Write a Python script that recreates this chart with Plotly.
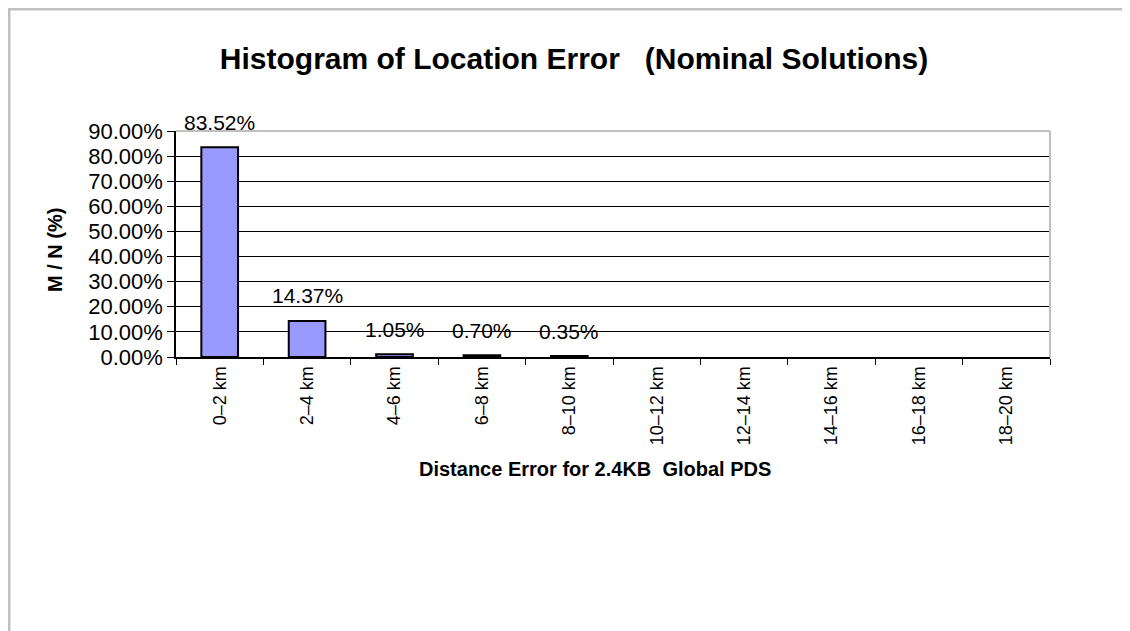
import plotly.graph_objects as go

categories = ["0\u20132 km", "2\u20134 km", "4\u20136 km", "6\u20138 km", "8\u201310 km",
              "10\u201312 km", "12\u201314 km", "14\u201316 km", "16\u201318 km", "18\u201320 km"]
values = [83.52, 14.37, 1.05, 0.70, 0.35, 0, 0, 0, 0, 0]
labeled = [True, True, True, True, True, False, False, False, False, False]
y_ticks = [0, 10, 20, 30, 40, 50, 60, 70, 80, 90]
y_ticklabels = [f"{v:.2f}%" for v in y_ticks]

FONT = "Liberation Sans, Arial, sans-serif"
NARROW = "Liberation Sans Narrow, Arial Narrow, Liberation Sans, Arial, sans-serif"

# page body has an 8px margin; figure is sized to fill the rest of the window
OFF = 8
W, H = 1130 - OFF, 631 - OFF
L, R, T, B = 176 - OFF, 80, 131 - OFF, 274

pw = W - L - R
ph = H - T - B
def px_x(x):
    return (x - L) / pw
def px_y(y):
    return 1 - (y - T) / ph

fig = go.Figure()
fig.add_trace(go.Bar(
    x=categories, y=values,
    marker=dict(color="#9999FF",
                line=dict(color="black", width=[2 if v > 0 else 0 for v in values])),
    width=0.42,
    hoverinfo="x+y",
))

for c, v, show in zip(categories, values, labeled):
    if show:
        fig.add_annotation(x=c, y=v, text=f"{v:.2f}%", showarrow=False,
                           yshift=25, font=dict(family=FONT, size=21, color="black"))

# axis titles as annotations (positioned like the reference)
fig.add_annotation(xref="paper", yref="paper", x=px_x(595 - OFF), y=px_y(469 - OFF),
                   text="<b>Distance Error for 2.4KB  Global PDS</b>", showarrow=False,
                   xanchor="center", yanchor="middle",
                   font=dict(family=FONT, size=20, color="black"))
fig.add_annotation(xref="paper", yref="paper", x=px_x(55 - OFF), y=px_y(250 - OFF),
                   text="<b>M / N (%)</b>", showarrow=False, textangle=-90,
                   xanchor="center", yanchor="middle",
                   font=dict(family=FONT, size=20, color="black"))

shapes = [
    # outer chart frame (top and left visible)
    dict(type="line", xref="paper", yref="paper", x0=px_x(0), x1=px_x(1140), y0=px_y(1), y1=px_y(1),
         line=dict(color="#c0c0c0", width=3)),
    dict(type="line", xref="paper", yref="paper", x0=px_x(1), x1=px_x(1), y0=px_y(0), y1=px_y(640),
         line=dict(color="#c0c0c0", width=3)),
    # plot area border top/right
    dict(type="line", xref="paper", yref="paper", x0=0, x1=1, y0=1, y1=1,
         line=dict(color="#c0c0c0", width=2), layer="above"),
    dict(type="line", xref="paper", yref="paper", x0=1, x1=1, y0=0, y1=1,
         line=dict(color="#c0c0c0", width=2), layer="above"),
]

fig.update_layout(
    width=W, height=H,
    margin=dict(l=L, r=R, t=T, b=B, autoexpand=False),
    paper_bgcolor="white", plot_bgcolor="white",
    showlegend=False,
    bargap=0.58,
    title=dict(text="<b>Histogram of Location Error   (Nominal Solutions)</b>",
               x=(574 - OFF) / W, xanchor="center", y=1 - (58 - OFF) / H, yanchor="middle",
               font=dict(family=FONT, size=30, color="black")),
    shapes=shapes,
    font=dict(family=FONT, color="black"),
)

fig.update_xaxes(
    type="category", categoryorder="array", categoryarray=categories,
    tickangle=-90, tickson="boundaries", ticks="outside", ticklen=6, tickcolor="black",
    showline=True, linecolor="black", linewidth=2, showgrid=False,
    tickfont=dict(family=NARROW, size=18, color="black"),
)
fig.update_yaxes(
    range=[0, 90], tickvals=y_ticks, ticktext=y_ticklabels,
    ticks="outside", ticklen=7, tickcolor="black",
    showline=True, linecolor="black", linewidth=1.5,
    showgrid=True, gridcolor="black", gridwidth=1, zeroline=False,
    tickfont=dict(family=FONT, size=22, color="black"),
)

fig.write_html("out.html")
